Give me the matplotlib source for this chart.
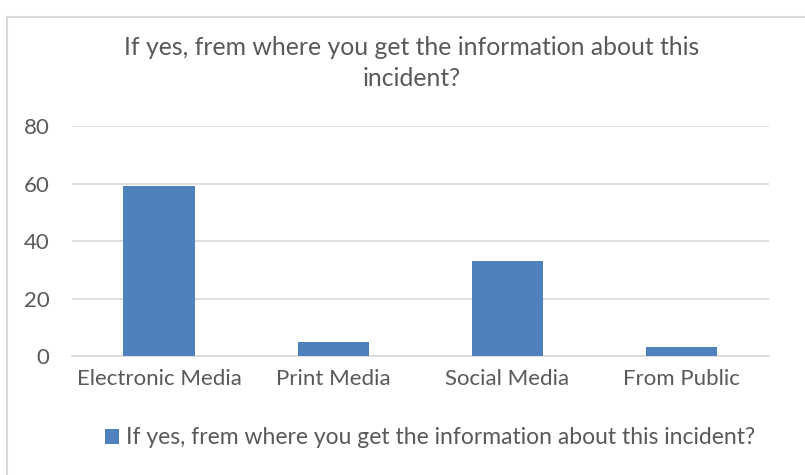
import numpy as np
import matplotlib.pyplot as plt
from matplotlib.patches import Rectangle

# Survey answers: where respondents heard about the incident
categories = ["Electronic Media", "Print Media", "Social Media", "From Public"]
counts = [59, 5, 33, 3]
yticks = [0, 20, 40, 60, 80]
question = "If yes, frem where you get the information about this incident?"

TEXT = "#595959"
GRID = "#d9d9d9"
BAR = "#4f81bd"

plt.rcParams["font.family"] = ["Lato", "DejaVu Sans"]

fig = plt.figure(figsize=(8.05, 4.75), dpi=100)
ax = fig.add_axes([0.0894, 0.2505, 0.8654, 0.4842])

x = np.arange(len(categories))
ax.bar(x, counts, width=0.41, color=BAR, zorder=3, label=question)

ax.set_xlim(-0.5, len(categories) - 0.5)
ax.set_ylim(0, 80)
ax.set_yticks(yticks)
ax.set_xticks(x)
ax.set_xticklabels(categories)
ax.tick_params(axis="both", length=0, colors=TEXT, labelsize=16)
ax.tick_params(axis="x", pad=9)
ax.tick_params(axis="y", pad=16)
ax.grid(axis="y", color=GRID, linewidth=1.2, zorder=0)
for side in ["top", "right", "left"]:
    ax.spines[side].set_visible(False)
ax.spines["bottom"].set_color(GRID)
ax.spines["bottom"].set_linewidth(1.2)

fig.text(0.511, 0.901, "If yes, frem where you get the information about this",
         ha="center", va="center", fontsize=17.8, color=TEXT)
fig.text(0.511, 0.834, "incident?", ha="center", va="center", fontsize=17.8, color=TEXT)

fig.legend(loc="center", bbox_to_anchor=(0.534, 0.078), frameon=False,
           fontsize=16.5, labelcolor=TEXT, handlelength=0.6, handleheight=0.6,
           handletextpad=0.3)

# outer chart frame
fig.patches.append(Rectangle((0.0087, -0.02), 1.1, 1.005 - 0.02, transform=fig.transFigure,
                             fill=False, edgecolor=GRID, linewidth=1.5))

fig.savefig("out.png", dpi=100)
